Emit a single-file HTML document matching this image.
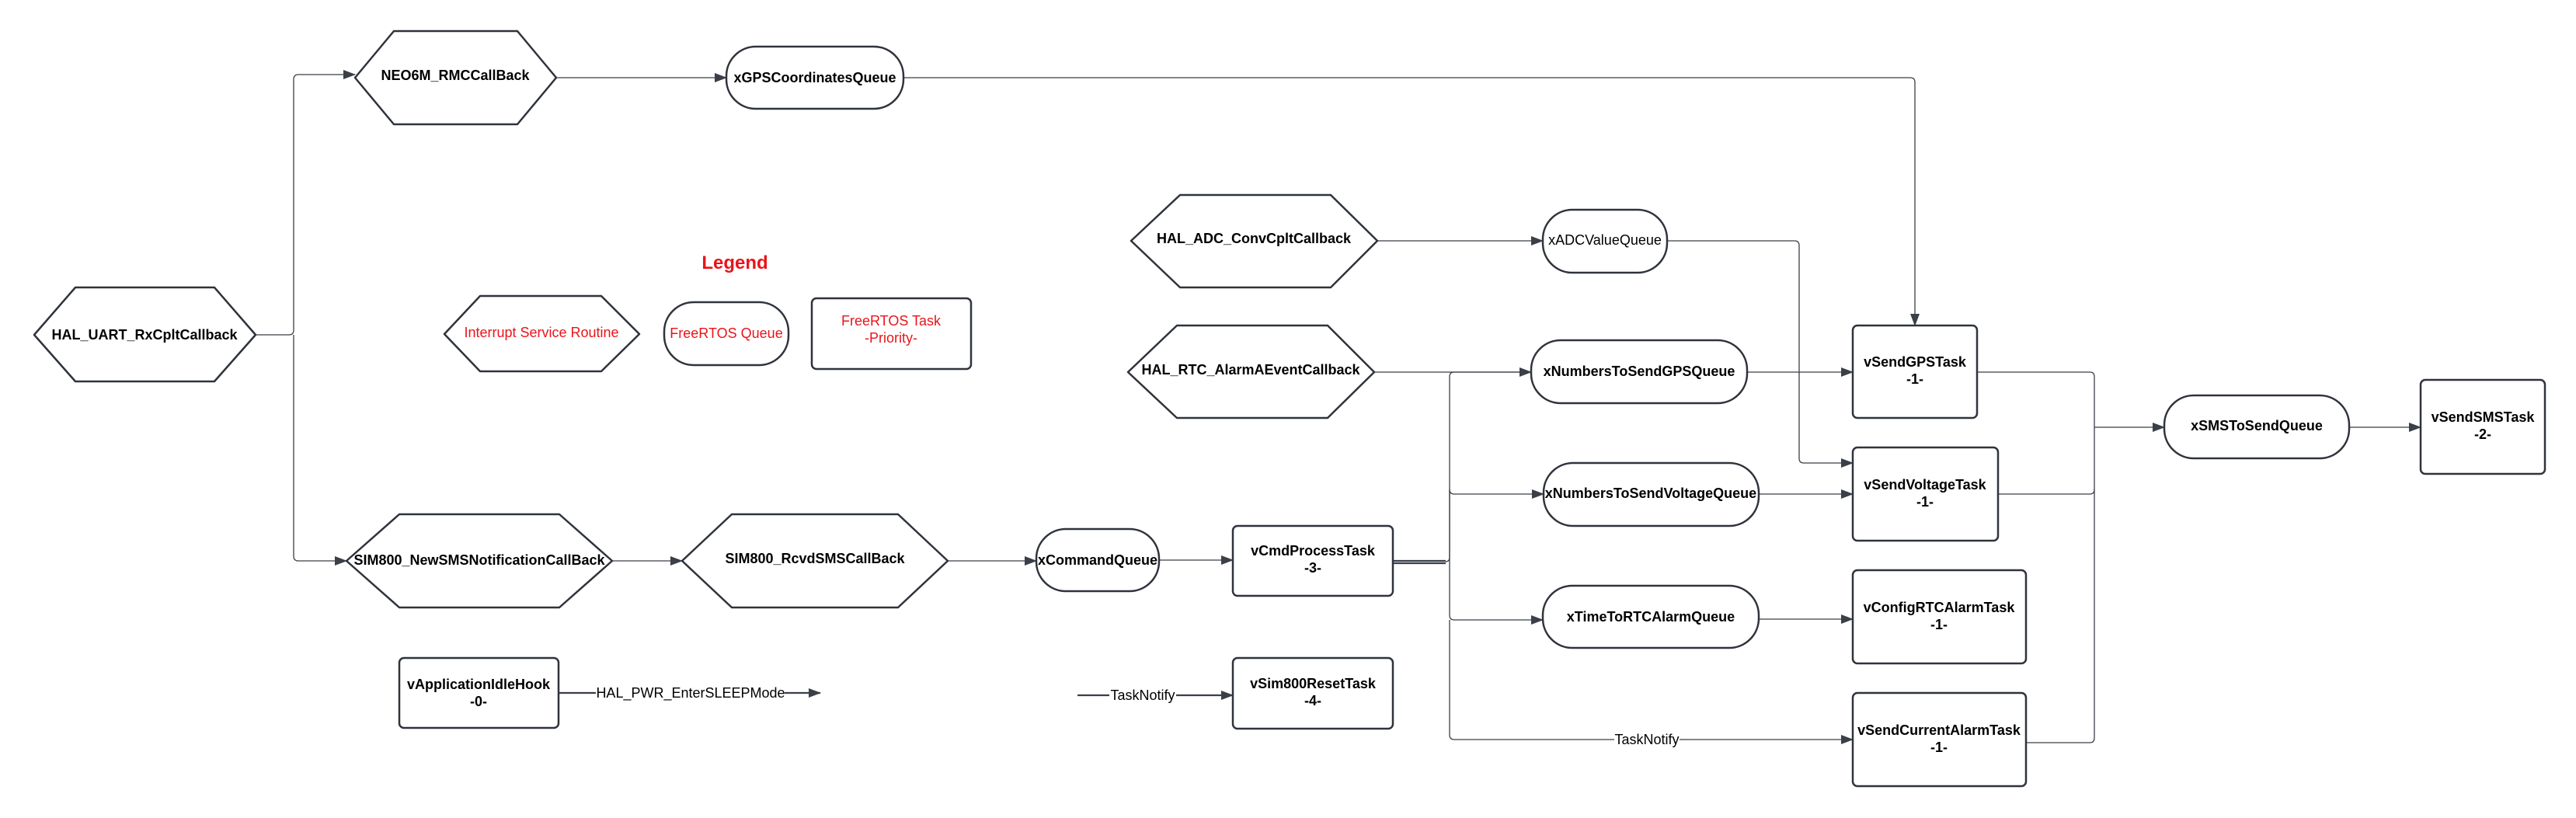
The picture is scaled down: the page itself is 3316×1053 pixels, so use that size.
<!DOCTYPE html>
<html><head><meta charset="utf-8"><style>
html,body{margin:0;padding:0;background:#fff;}
svg{display:block;}
text{font-family:"Liberation Sans",Arial,sans-serif;font-size:18px;fill:#000;}
.b{font-weight:bold;}
.r{fill:#e8141b;}
.s{fill:#fff;stroke:#2f333b;stroke-width:2.5;stroke-linejoin:round;}
.c{fill:none;stroke:#3a3f48;stroke-width:1.3;stroke-linejoin:round;}
.ct{fill:none;stroke:#3a3f48;stroke-width:2.2;}
</style></head><body>
<svg width="3316" height="1053" viewBox="0 0 3316 1053" xmlns="http://www.w3.org/2000/svg">
<defs>
<marker id="a" markerWidth="16" markerHeight="12" refX="15" refY="6" orient="auto" markerUnits="userSpaceOnUse">
<path d="M0,0 L16,6 L0,12 Z" fill="#3a3f48"/></marker>
</defs>

<!-- connectors -->
<path class="c" d="M329,431 H372 Q378,431 378,425 V102 Q378,96 384,96 H457" marker-end="url(#a)"/>
<path class="c" d="M378,431 V716 Q378,722 384,722 H446" marker-end="url(#a)"/>
<path class="c" d="M716,100 H935" marker-end="url(#a)"/>
<path class="c" d="M1163,100 H2459 Q2465,100 2465,106 V419" marker-end="url(#a)"/>
<path class="c" d="M788,722 H878" marker-end="url(#a)"/>
<path class="c" d="M1220,722 H1334" marker-end="url(#a)"/>
<path class="c" d="M1492,721 H1587" marker-end="url(#a)"/>
<path class="ct" d="M1793,722 H1861" /><path class="ct" d="M1793,725 H1861" />
<path class="c" d="M1861,723 Q1866,723 1866,717 V485 Q1866,479 1872,479 H1971" marker-end="url(#a)"/>
<path class="c" d="M1866,723 V630 Q1866,636 1872,636 H1987" marker-end="url(#a)"/>
<path class="c" d="M1866,723 V792 Q1866,798 1872,798 H1986" marker-end="url(#a)"/>
<path class="c" d="M1866,798 V946 Q1866,952 1872,952 H2385" marker-end="url(#a)"/>
<path class="c" d="M1773,310 H1986" marker-end="url(#a)"/>
<path class="c" d="M1769,479 H1971"/>
<path class="c" d="M2146,310 H2310 Q2316,310 2316,316 V590 Q2316,596 2322,596 H2385" marker-end="url(#a)"/>
<path class="c" d="M2249,479 H2385" marker-end="url(#a)"/>
<path class="c" d="M2264,636 H2385" marker-end="url(#a)"/>
<path class="c" d="M2264,797 H2385" marker-end="url(#a)"/>
<path class="c" d="M2545,479 H2690 Q2696,479 2696,485 V950 Q2696,956 2690,956 H2608"/>
<path class="c" d="M2572,636 H2690 Q2696,636 2696,630"/>
<path class="c" d="M2696,550 H2786" marker-end="url(#a)"/>
<path class="c" d="M3024,550 H3116" marker-end="url(#a)"/>
<path class="ct" d="M719,892 H1056" marker-end="url(#a)"/>
<path class="ct" d="M1387,895 H1587" marker-end="url(#a)"/>

<!-- connector labels -->
<rect x="767" y="880" width="243" height="24" fill="#fff"/>
<text x="889" y="898" text-anchor="middle">HAL_PWR_EnterSLEEPMode</text>
<rect x="1428" y="883" width="86" height="24" fill="#fff"/>
<text x="1471" y="901" text-anchor="middle">TaskNotify</text>
<rect x="2078" y="940" width="84" height="24" fill="#fff"/>
<text x="2120" y="958" text-anchor="middle">TaskNotify</text>

<!-- hexagons -->
<polygon class="s" points="97,370 276,370 329,431 276,491 97,491 44,431"/>
<text class="b" x="186" y="437" text-anchor="middle">HAL_UART_RxCpltCallback</text>
<polygon class="s" points="507,40 666,40 716,100 666,160 507,160 457,100"/>
<text class="b" x="586" y="103" text-anchor="middle">NEO6M_RMCCallBack</text>
<polygon class="s" points="514,662 720,662 788,722 720,782 514,782 446,722"/>
<text class="b" x="617" y="727" text-anchor="middle">SIM800_NewSMSNotificationCallBack</text>
<polygon class="s" points="942,662 1156,662 1220,722 1156,782 942,782 878,722"/>
<text class="b" x="1049" y="725" text-anchor="middle">SIM800_RcvdSMSCallBack</text>
<polygon class="s" points="1519,251 1713,251 1773,310 1713,370 1519,370 1456,310"/>
<text class="b" x="1614" y="313" text-anchor="middle">HAL_ADC_ConvCpltCallback</text>
<polygon class="s" points="1515,419 1709,419 1769,479 1709,538 1515,538 1452,479"/>
<text class="b" x="1610" y="482" text-anchor="middle">HAL_RTC_AlarmAEventCallback</text>
<polygon class="s" points="618,381 774,381 823,430 774,478 618,478 572,430"/>
<text class="r" x="697" y="434" text-anchor="middle">Interrupt Service Routine</text>

<!-- queues -->
<rect class="s" x="935" y="60" width="228" height="80" rx="38"/>
<text class="b" x="1049" y="106" text-anchor="middle">xGPSCoordinatesQueue</text>
<rect class="s" x="1986" y="270" width="160" height="81" rx="38"/>
<text x="2066" y="315" text-anchor="middle">xADCValueQueue</text>
<rect class="s" x="1971" y="438" width="278" height="81" rx="38"/>
<text class="b" x="2110" y="484" text-anchor="middle">xNumbersToSendGPSQueue</text>
<rect class="s" x="1987" y="596" width="277" height="81" rx="38"/>
<text class="b" x="2125" y="641" text-anchor="middle">xNumbersToSendVoltageQueue</text>
<rect class="s" x="1986" y="754" width="278" height="80" rx="38"/>
<text class="b" x="2125" y="800" text-anchor="middle">xTimeToRTCAlarmQueue</text>
<rect class="s" x="1334" y="681" width="158" height="80" rx="38"/>
<text class="b" x="1413" y="727" text-anchor="middle">xCommandQueue</text>
<rect class="s" x="2786" y="509" width="238" height="81" rx="38"/>
<text class="b" x="2905" y="554" text-anchor="middle">xSMSToSendQueue</text>
<rect class="s" x="855" y="389" width="160" height="81" rx="38"/>
<text class="r" x="935" y="435" text-anchor="middle">FreeRTOS Queue</text>

<!-- tasks -->
<rect class="s" x="514" y="847" width="205" height="90" rx="6"/>
<text class="b" x="616" y="887" text-anchor="middle">vApplicationIdleHook</text>
<text class="b" x="616" y="909" text-anchor="middle">-0-</text>
<rect class="s" x="1587" y="677" width="206" height="90" rx="6"/>
<text class="b" x="1690" y="715" text-anchor="middle">vCmdProcessTask</text>
<text class="b" x="1690" y="737" text-anchor="middle">-3-</text>
<rect class="s" x="1587" y="847" width="206" height="91" rx="6"/>
<text class="b" x="1690" y="886" text-anchor="middle">vSim800ResetTask</text>
<text class="b" x="1690" y="908" text-anchor="middle">-4-</text>
<rect class="s" x="2385" y="419" width="160" height="119" rx="6"/>
<text class="b" x="2465" y="472" text-anchor="middle">vSendGPSTask</text>
<text class="b" x="2465" y="494" text-anchor="middle">-1-</text>
<rect class="s" x="2385" y="576" width="187" height="120" rx="6"/>
<text class="b" x="2478" y="630" text-anchor="middle">vSendVoltageTask</text>
<text class="b" x="2478" y="652" text-anchor="middle">-1-</text>
<rect class="s" x="2385" y="734" width="223" height="120" rx="6"/>
<text class="b" x="2496" y="788" text-anchor="middle">vConfigRTCAlarmTask</text>
<text class="b" x="2496" y="810" text-anchor="middle">-1-</text>
<rect class="s" x="2385" y="892" width="223" height="120" rx="6"/>
<text class="b" x="2496" y="946" text-anchor="middle">vSendCurrentAlarmTask</text>
<text class="b" x="2496" y="968" text-anchor="middle">-1-</text>
<rect class="s" x="3116" y="489" width="160" height="121" rx="6"/>
<text class="b" x="3196" y="543" text-anchor="middle">vSendSMSTask</text>
<text class="b" x="3196" y="565" text-anchor="middle">-2-</text>
<rect class="s" x="1045" y="384" width="205" height="91" rx="6"/>
<text class="r" x="1147" y="419" text-anchor="middle">FreeRTOS Task</text>
<text class="r" x="1147" y="441" text-anchor="middle">-Priority-</text>

<text class="b r" x="946" y="346" text-anchor="middle" style="font-size:24px">Legend</text>
</svg>
</body></html>
